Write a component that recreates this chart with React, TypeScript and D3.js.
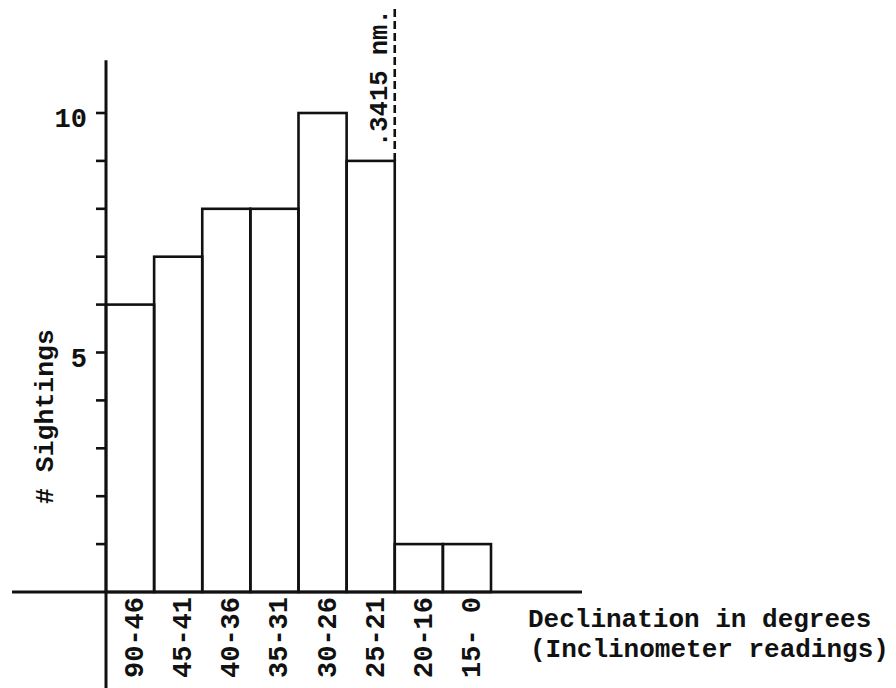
import React, { useEffect, useRef } from "react";
import * as d3 from "d3";

const categories: string[] = ["90-46", "45-41", "40-36", "35-31", "30-26", "25-21", "20-16", "15- 0"];
const sightings: number[] = [6, 7, 8, 8, 10, 9, 1, 1];
const yTickValues: number[] = [1, 2, 3, 4, 5, 6, 7, 8, 9, 10];
const yTickLabels: number[] = [5, 10];
const markerCategory = "25-21";
const markerLabel = ".3415 nm.";
const xTitleLines: string[] = ["Declination in degrees", "(Inclinometer readings)"];
const yTitle = "# Sightings";

const W = 896;
const H = 688;
const FONT = "'Liberation Mono', 'DejaVu Sans Mono', monospace";
const INK = "#111";

export default function App() {
  const ref = useRef<SVGSVGElement | null>(null);

  useEffect(() => {
    const svg = d3.select(ref.current);
    svg.selectAll("*").remove();

    const x = d3.scaleBand<string>().domain(categories).range([106, 491]).padding(0);
    const y = d3.scaleLinear().domain([0, 10]).range([592, 113]);

    const g = svg.append("g");

    // bars
    g.selectAll("rect.bar")
      .data(categories)
      .enter()
      .append("rect")
      .attr("class", "bar")
      .attr("x", (d) => x(d)!)
      .attr("y", (d, i) => y(sightings[i]))
      .attr("width", x.bandwidth())
      .attr("height", (d, i) => y(0) - y(sightings[i]))
      .attr("fill", "none")
      .attr("stroke", INK)
      .attr("stroke-width", 2.6);

    // x axis line
    g.append("line")
      .attr("x1", 12)
      .attr("x2", 582)
      .attr("y1", y(0))
      .attr("y2", y(0))
      .attr("stroke", INK)
      .attr("stroke-width", 3);

    // y axis line
    g.append("line")
      .attr("x1", x.range()[0])
      .attr("x2", x.range()[0])
      .attr("y1", y(11.1))
      .attr("y2", H)
      .attr("stroke", INK)
      .attr("stroke-width", 3);

    // y ticks
    g.selectAll("line.ytick")
      .data(yTickValues)
      .enter()
      .append("line")
      .attr("class", "ytick")
      .attr("x1", x.range()[0] - 10)
      .attr("x2", x.range()[0])
      .attr("y1", (d) => y(d))
      .attr("y2", (d) => y(d))
      .attr("stroke", INK)
      .attr("stroke-width", 2.6);

    g.selectAll("text.ylab")
      .data(yTickLabels)
      .enter()
      .append("text")
      .attr("class", "ylab")
      .attr("x", x.range()[0] - 19)
      .attr("y", (d) => y(d) + 14)
      .attr("text-anchor", "end")
      .attr("font-family", FONT)
      .attr("font-weight", "bold")
      .attr("font-size", 27)
      .attr("fill", INK)
      .text((d) => String(d));

    // x tick labels (rotated)
    g.selectAll("text.xlab")
      .data(categories)
      .enter()
      .append("text")
      .attr("class", "xlab")
      .attr("transform", (d) => `translate(${x(d)! + x.bandwidth() / 2 + 13},678) rotate(-90)`)
      .attr("text-anchor", "start")
      .attr("font-family", FONT)
      .attr("font-weight", "bold")
      .attr("font-size", 27)
      .attr("fill", INK)
      .attr("xml:space", "preserve")
      .style("white-space", "pre")
      .text((d) => d);

    // marker dashed line
    const mi = categories.indexOf(markerCategory);
    const mx = x(markerCategory)! + x.bandwidth();
    g.append("line")
      .attr("x1", mx)
      .attr("x2", mx)
      .attr("y1", y(sightings[mi]))
      .attr("y2", 6)
      .attr("stroke", INK)
      .attr("stroke-width", 2.6)
      .attr("stroke-dasharray", "8,4");

    g.append("text")
      .attr("transform", `translate(${mx - 8},147) rotate(-90)`)
      .attr("text-anchor", "start")
      .attr("font-family", FONT)
      .attr("font-weight", "bold")
      .attr("font-size", 25.5)
      .attr("fill", INK)
      .text(markerLabel);

    // x title
    g.selectAll("text.xtitle")
      .data(xTitleLines)
      .enter()
      .append("text")
      .attr("class", "xtitle")
      .attr("x", (d, i) => 528 + i * 2)
      .attr("y", (d, i) => 627 + i * 30)
      .attr("font-family", FONT)
      .attr("font-weight", "bold")
      .attr("font-size", 26)
      .attr("fill", INK)
      .text((d) => d);

    // y title
    g.append("text")
      .attr("transform", `translate(53,504) rotate(-90)`)
      .attr("text-anchor", "start")
      .attr("font-family", FONT)
      .attr("font-weight", "bold")
      .attr("font-size", 26.5)
      .attr("fill", INK)
      .text(yTitle);
  }, []);

  return (
    <svg
      ref={ref}
      width={W}
      height={H}
      style={{ position: "absolute", left: 0, top: 0, background: "#fff" }}
    />
  );
}
